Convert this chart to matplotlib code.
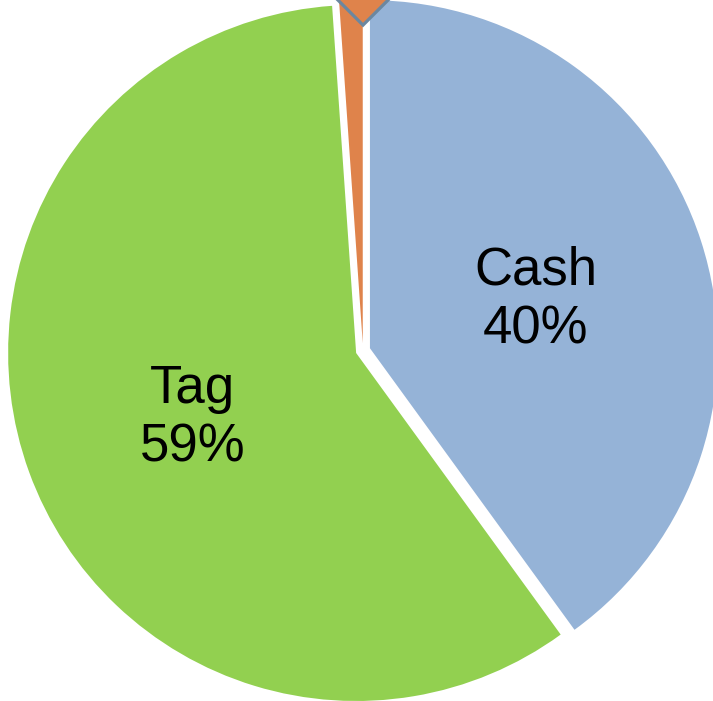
import matplotlib
matplotlib.use("Agg")
import matplotlib.pyplot as plt
import numpy as np
from matplotlib.patches import Polygon

categories = ["Cash", "Tag", "Other"]
values = [40.0, 58.9, 1.1]
shown_labels = ["Cash", "Tag", ""]
colors = ["#95B3D7", "#92D050", "#DF834B"]

W, H = 713, 701
fig = plt.figure(figsize=(W / 100, H / 100), dpi=100)
ax = fig.add_axes([0, 0, 1, 1])

scale = 348.0  # px per unit radius
cx_px, cy_px = 363.0, 350.5  # pie centre (from left, from bottom)

wedges, _ = ax.pie(values, colors=colors, startangle=90, counterclock=False,
                   explode=[0.021] * len(values), radius=1.0,
                   wedgeprops=dict(linewidth=0), frame=True)
ax.set_xlim(-cx_px / scale, (W - cx_px) / scale)
ax.set_ylim(-cy_px / scale, (H - cy_px) / scale)
ax.set_aspect("auto")
ax.axis("off")

total = sum(values)
for w, lab, v in zip(wedges, shown_labels, values):
    if not lab:
        continue
    mid = np.deg2rad((w.theta1 + w.theta2) / 2)
    x = w.center[0] + 0.50 * np.cos(mid)
    y = w.center[1] + 0.50 * np.sin(mid) - 0.016
    ax.text(x, y, f"{lab}\n{v / total * 100:.0f}%", ha="center", va="center",
            fontsize=38, family="Liberation Sans", color="black", linespacing=1.22)

# cropped callout marker above the small slice
dcx, dcy, hd = 0.0, 1.010, 0.075
diamond = Polygon([[dcx, dcy + hd], [dcx + hd, dcy], [dcx, dcy - hd], [dcx - hd, dcy]],
                  closed=True, facecolor=colors[2], edgecolor="#6B87A0", linewidth=2.3,
                  clip_on=False, zorder=5)
ax.add_patch(diamond)

fig.savefig("out.png", dpi=100, facecolor="white")
